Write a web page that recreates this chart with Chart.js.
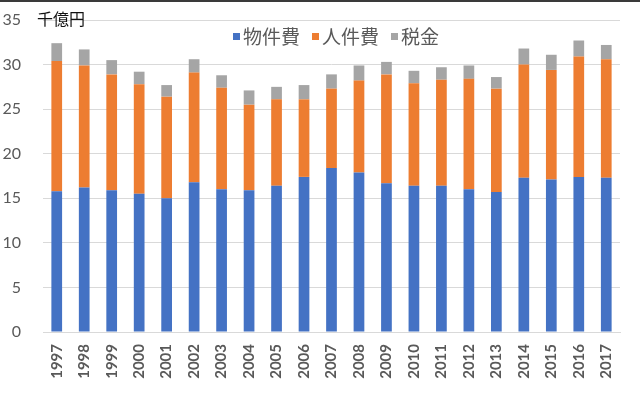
<!DOCTYPE html>
<html>
<head>
<meta charset="utf-8">
<script src="https://cdn.jsdelivr.net/npm/chart.js@4/dist/chart.umd.min.js"></script>
<style>
html,body{margin:0;padding:0;background:#fff;}
#wrap{position:relative;width:640px;height:393px;overflow:hidden;}
#topline{position:absolute;left:0;top:0;width:640px;height:2px;background:#3a3a3a;}
#unit{position:absolute;left:37px;top:8px;font-family:"Noto Sans CJK JP",sans-serif;font-size:16px;color:#111;line-height:20px;}
#legend{position:absolute;left:233px;top:26px;height:20px;display:flex;align-items:center;font-family:"Noto Sans CJK JP",sans-serif;font-size:19px;color:#595959;line-height:20px;white-space:nowrap;}
#legend .item{display:flex;align-items:center;margin-right:12px;}
#legend .box{width:7px;height:7px;margin-right:3px;}
canvas{position:absolute;left:0;top:0;}
</style>
</head>
<body>
<div id="wrap">
<canvas id="c" width="640" height="393"></canvas>
<div id="topline"></div>
<div id="unit">千億円</div>
<div id="legend"></div>
</div>
<script>
const years = ["1997","1998","1999","2000","2001","2002","2003","2004","2005","2006","2007","2008","2009","2010","2011","2012","2013","2014","2015","2016","2017"];
const seriesNames = ["物件費","人件費","税金"];
const buppinhi = [15.8,16.2,15.9,15.5,15.0,16.8,16.0,15.9,16.4,17.4,18.4,17.9,16.7,16.4,16.4,16.0,15.7,17.3,17.1,17.4,17.3];
const jinkenhi = [14.6,13.7,13.0,12.3,11.4,12.3,11.4,9.6,9.7,8.7,8.9,10.3,12.2,11.5,11.9,12.4,11.6,12.7,12.3,13.5,13.3];
const zeikin   = [2.0,1.8,1.6,1.4,1.3,1.5,1.4,1.6,1.4,1.6,1.6,1.7,1.4,1.4,1.4,1.5,1.3,1.8,1.7,1.8,1.6];
const yTicks = [0,5,10,15,20,25,30,35];
const colors = ["#4472C4","#ED7D31","#A5A5A5"];

const FONT = "Lato, 'Noto Sans CJK JP', sans-serif";
const mk = (label, data, color) => ({label, data, backgroundColor: color, borderWidth: 0, barPercentage: 0.39, categoryPercentage: 1.0});

const lg = document.getElementById('legend');
seriesNames.forEach((n, i) => {
  const it = document.createElement('div'); it.className = 'item';
  const b = document.createElement('span'); b.className = 'box'; b.style.background = colors[i];
  const t = document.createElement('span'); t.textContent = n;
  it.appendChild(b); it.appendChild(t); lg.appendChild(it);
});

new Chart(document.getElementById('c'), {
  type: 'bar',
  data: {
    labels: years,
    datasets: [mk(seriesNames[0], buppinhi, colors[0]), mk(seriesNames[1], jinkenhi, colors[1]), mk(seriesNames[2], zeikin, colors[2])]
  },
  options: {
    responsive: false,
    animation: false,
    layout: {padding: {top: 20, right: 20, left: 0, bottom: 0}},
    plugins: {
      legend: {display: false},
      tooltip: {enabled: false}
    },
    scales: {
      x: {
        stacked: true,
        grid: {display: false},
        border: {display: true, color: '#d9d9d9'},
        ticks: {color: '#595959', font: {family: FONT, size: 15, weight: 'bold'}, maxRotation: 90, minRotation: 90, padding: 4, autoSkip: false},
        afterFit: s => { s.height = 61; }
      },
      y: {
        stacked: true,
        min: 0, max: 35,
        afterBuildTicks: s => { s.ticks = yTicks.map(v => ({value: v})); },
        grid: {color: '#d9d9d9', drawTicks: true, tickLength: 20, tickColor: 'rgba(0,0,0,0)'},
        border: {display: false},
        ticks: {color: '#595959', font: {family: FONT, size: 16}, padding: 2},
        afterFit: s => { s.width = 43; }
      }
    }
  }
});
</script>
</body>
</html>
